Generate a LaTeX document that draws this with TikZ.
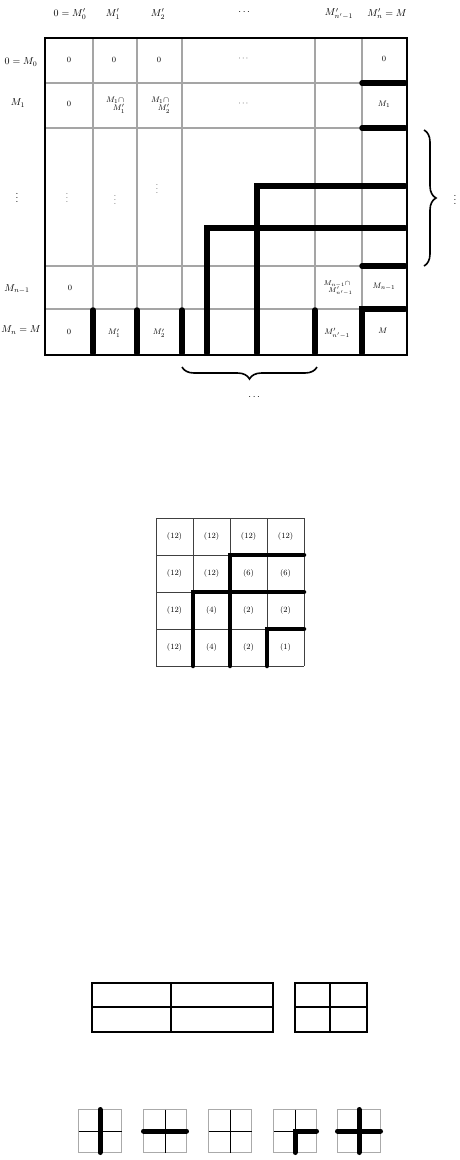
\documentclass[tikz,border=0pt]{standalone}
\usepackage{tikz}
\usetikzlibrary{positioning, calc, decorations.pathreplacing}
\usepackage{amsmath}
\definecolor{gridgray}{RGB}{165,165,165}
\definecolor{smallgray}{RGB}{170,170,170}
\tikzset{
  gridline/.style={draw=gridgray, line width=2pt},
  frameline/.style={draw=black, line width=2.6pt},
  thickbar/.style={draw=black, line width=5.5pt, line cap=round,
                   line join=miter},
  midbar/.style={draw=black, line width=4.5pt, line cap=round,
                 line join=miter},
  thinline/.style={draw=black!75, line width=0.9pt},
  tableline/.style={draw=black, line width=1.2pt},
  celltext/.style={font=\footnotesize, align=center, inner sep=1pt},
  headtext/.style={font=\normalsize, inner sep=1pt},
  bracebar/.style={decorate, line width=1.6pt,
                   decoration={brace, amplitude=12pt}}
}

\begin{document}
\begin{tikzpicture}[x=1pt, y=-1pt]

  \useasboundingbox (0,0) rectangle (459,1160);

  %% Figure 1: the big grid
  \foreach \gx in {93,137,182,315,362}
    \draw[gridline] (\gx,38) -- (\gx,355);
  \foreach \gy in {83,128,266,309}
    \draw[gridline] (45,\gy) -- (407,\gy);
  \draw[frameline] (45,38) rectangle (407,355);

  %% thick bars, right column
  \draw[thickbar] (362,83)  -- (405,83);
  \draw[thickbar] (362,128) -- (405,128);
  \draw[thickbar] (362,266) -- (405,266);
  \draw[thickbar] (405,309) -- (362,309) -- (362,353);

  %% thick bars, nested corners
  \draw[thickbar] (405,186) -- (257,186) -- (257,353);
  \draw[thickbar] (405,228) -- (207,228) -- (207,353);

  %% thick bars, bottom row
  \foreach \bx in {93,137,182,315}
    \draw[thickbar] (\bx,310) -- (\bx,353);

  %% column labels
  \node[headtext] (col0) at (70,14)  {$0=M'_0$};
  \node[headtext] (col1) at (113,14) {$M'_1$};
  \node[headtext] (col2) at (158,14) {$M'_2$};
  \node[headtext] (col3) at (245,12) {$\cdots$};
  \node[headtext] (col4) at (339,14) {$M'_{n'-1}$};
  \node[headtext] (col5) at (387,14) {$M'_n=M$};

  %% row labels
  \node[headtext] (row0) at (21,62)  {$0=M_0$};
  \node[headtext] (row1) at (18,103) {$M_1$};
  \node[headtext] (row2) at (17,195) {$\vdots$};
  \node[headtext] (row3) at (17,289) {$M_{n-1}$};
  \node[headtext] (row4) at (21,330) {$M_n=M$};

  %% cell contents
  \node[celltext] (a00) at (69,60)   {$0$};
  \node[celltext] (a01) at (114,60)  {$0$};
  \node[celltext] (a02) at (159,60)  {$0$};
  \node[celltext] (a03) at (244,59)  {$\cdots$};
  \node[celltext] (a05) at (384,59)  {$0$};
  \node[celltext] (a10) at (69,104)  {$0$};
  \node[celltext] (a11) at (115,105) {$M_1\cap$\\[-1pt]$\quad M'_1$};
  \node[celltext] (a12) at (160,105) {$M_1\cap$\\[-1pt]$\quad M'_2$};
  \node[celltext] (a13) at (244,104) {$\cdots$};
  \node[celltext] (a15) at (384,104) {$M_1$};
  \node[celltext] (a20) at (67,195)  {$\vdots$};
  \node[celltext] (a21) at (115,197) {$\vdots$};
  \node[celltext] (a22) at (157,186) {$\vdots$};
  \node[celltext] (a30) at (70,288)  {$0$};
  \node[celltext, font=\scriptsize] (a34) at (337,288)
    {$M_{n-1}\cap$\\[-1pt]$\quad M'_{n'-1}$};
  \node[celltext] (a35) at (384,287) {$M_{n-1}$};
  \node[celltext] (a40) at (69,332)  {$0$};
  \node[celltext] (a41) at (114,333) {$M'_1$};
  \node[celltext] (a42) at (159,333) {$M'_2$};
  \node[celltext] (a44) at (337,333) {$M'_{n'-1}$};
  \node[celltext] (a45) at (383,331) {$M$};

  %% braces
  \coordinate (rtop) at (424,130);
  \coordinate (rbot) at (424,266);
  \draw[bracebar] (rtop) -- (rbot);
  \node[headtext] (rdots) at (455,197) {$\vdots$};
  \coordinate (bleft)  at (182,367);
  \coordinate (bright) at (317,367);
  \draw[bracebar] (bright) -- (bleft);
  \node[headtext] (bdots) at (255,397) {$\cdots$};

  %% Figure 2: the 4x4 grid
  \foreach \k in {0,...,4} {
    \draw[thinline] (156+37*\k,518) -- (156+37*\k,666);
    \draw[thinline] (156,518+37*\k) -- (304,518+37*\k);
  }
  \foreach \lab [count=\i from 0] in
      {(12),(12),(12),(12),(12),(12),(6),(6),
       (12),(4),(2),(2),(12),(4),(2),(1)} {
    \pgfmathtruncatemacro{\cx}{mod(\i,4)}
    \pgfmathtruncatemacro{\cy}{div(\i,4)}
    \node[celltext] (b\i) at (174.5+37*\cx,536.5+37*\cy) {\lab};
  }
  \draw[midbar] (304,555) -- (230,555) -- (230,666);
  \draw[midbar] (304,592) -- (193,592) -- (193,666);
  \draw[midbar] (304,629) -- (267,629) -- (267,666);

  %% Figure 3: two tables
  \draw[tableline] (92,983) rectangle (273,1032);
  \draw[tableline] (171,983) -- (171,1032);
  \draw[tableline] (92,1007) -- (273,1007);
  \draw[tableline] (295,983) rectangle (367,1032);
  \draw[tableline] (330,983) -- (330,1032);
  \draw[tableline] (295,1007) -- (367,1007);

  %% Figure 4: five small grids
  \foreach \sx in {100,165,230,295,359} {
    \draw[draw=smallgray, line width=1.4pt]
      (\sx-21.5,1109.5) rectangle (\sx+21.5,1152.5);
    \draw[draw=black, line width=0.9pt]
      (\sx,1109.5) -- (\sx,1152.5) (\sx-21.5,1131) -- (\sx+21.5,1131);
  }
  \draw[thickbar, line width=5pt] (100,1109.5) -- (100,1152.5);
  \draw[thickbar, line width=5pt] (143.5,1131) -- (186.5,1131);
  \draw[thickbar, line width=5pt] (316.5,1131) -- (295,1131) -- (295,1152.5);
  \draw[thickbar, line width=5pt] (359,1109.5) -- (359,1152.5)
                                  (337.5,1131) -- (380.5,1131);

\end{tikzpicture}
\end{document}
